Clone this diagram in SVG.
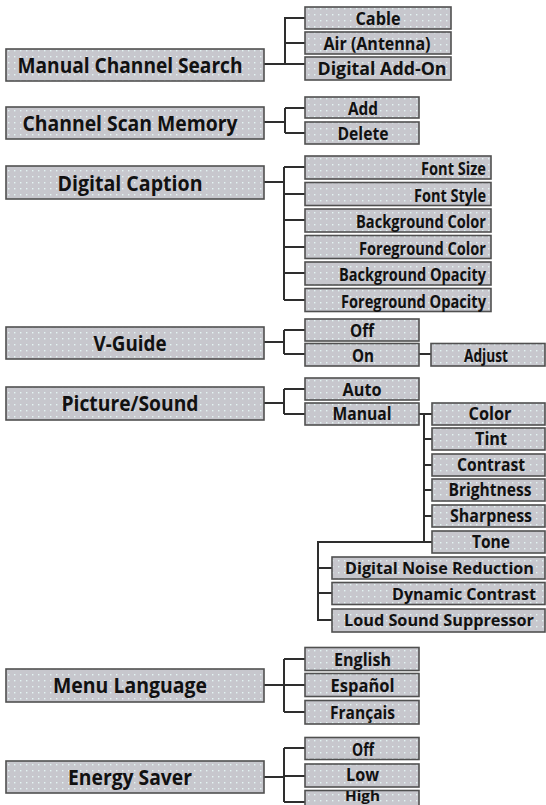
<svg xmlns="http://www.w3.org/2000/svg" width="546" height="805" viewBox="0 0 546 805">
<defs>
<pattern id="dots" width="6" height="6" patternUnits="userSpaceOnUse">
<rect width="6" height="6" fill="#c7c7cd"/>
<rect x="2" y="2" width="1.4" height="1.4" fill="#e4f4f3"/>
</pattern>
</defs>
<style>
.b{fill:url(#dots);stroke:#505050;stroke-width:1.6}
.m{font-family:"Open Sans","DejaVu Sans",sans-serif;font-weight:700;font-size:22px;fill:#111;text-anchor:middle}
.s{font-family:"Open Sans","DejaVu Sans",sans-serif;font-weight:700;font-size:18px;fill:#111;text-anchor:middle}
.r{font-family:"Open Sans","DejaVu Sans",sans-serif;font-weight:700;font-size:17px;fill:#111;text-anchor:end}
.l{font-family:"Open Sans","DejaVu Sans",sans-serif;font-weight:700;font-size:16px;fill:#111;text-anchor:end}
.c{fill:none;stroke:#2e2e2e;stroke-width:2}
</style>
<rect width="546" height="805" fill="#fff"/>
<g id="connectors" class="c">
<path d="M264,64H305M285,64V18H305M285,43H305"/>
<path d="M264,122H285M285,108V133M285,108H305M285,133H305"/>
<path d="M264,182H284M284,167V300M284,167H305M284,194H305M284,220H305M284,247H305M284,273H305M284,300H305"/>
<path d="M264,342H284M284,330V354M284,330H305M284,354H305M419,354H431"/>
<path d="M264,403H284M284,389V414M284,389H305M284,414H305"/>
<path d="M419,414H432M424,414V542M424,439H432M424,465H432M424,490H432M424,516H432M432,542H318V620H332M318,568H332M318,593H332"/>
<path d="M264,685H284M284,659V712M284,659H305M284,685H305M284,712H305"/>
<path d="M264,777H284M284,748V802M284,748H305M284,776H305M284,802H305"/>
</g>
<g id="n-manual-channel-search"><rect class="b" x="6" y="49" width="258" height="32"/><text class="m" x="130" y="73" textLength="225" lengthAdjust="spacingAndGlyphs">Manual Channel Search</text></g>
<g id="n-cable"><rect class="b" x="305" y="7" width="146" height="22"/><text class="s" x="378" y="25" textLength="45" lengthAdjust="spacingAndGlyphs">Cable</text></g>
<g id="n-air"><rect class="b" x="305" y="32" width="146" height="22"/><text class="s" x="377" y="50" textLength="107" lengthAdjust="spacingAndGlyphs">Air (Antenna)</text></g>
<g id="n-digital-add-on"><rect class="b" x="305" y="57" width="146" height="23"/><text class="s" x="382" y="75" textLength="129" lengthAdjust="spacingAndGlyphs">Digital Add-On</text></g>
<g id="n-channel-scan-memory"><rect class="b" x="6" y="107" width="258" height="32"/><text class="m" x="130" y="131" textLength="215" lengthAdjust="spacingAndGlyphs">Channel Scan Memory</text></g>
<g id="n-add"><rect class="b" x="305" y="97" width="114" height="21"/><text class="s" x="363" y="115" textLength="30" lengthAdjust="spacingAndGlyphs">Add</text></g>
<g id="n-delete"><rect class="b" x="305" y="122" width="114" height="22"/><text class="s" x="363" y="140" textLength="51" lengthAdjust="spacingAndGlyphs">Delete</text></g>
<g id="n-digital-caption"><rect class="b" x="6" y="166" width="258" height="33"/><text class="m" x="130" y="190.5" textLength="145" lengthAdjust="spacingAndGlyphs">Digital Caption</text></g>
<g id="n-font-size"><rect class="b" x="305" y="156" width="186" height="23"/><text class="r" x="486" y="175" textLength="65" lengthAdjust="spacingAndGlyphs">Font Size</text></g>
<g id="n-font-style"><rect class="b" x="305" y="182.5" width="186" height="23"/><text class="r" x="486" y="201.5" textLength="72" lengthAdjust="spacingAndGlyphs">Font Style</text></g>
<g id="n-background-color"><rect class="b" x="305" y="209" width="186" height="23"/><text class="r" x="486" y="228" textLength="130" lengthAdjust="spacingAndGlyphs">Background Color</text></g>
<g id="n-foreground-color"><rect class="b" x="305" y="235.5" width="186" height="23"/><text class="r" x="486" y="254.5" textLength="127" lengthAdjust="spacingAndGlyphs">Foreground Color</text></g>
<g id="n-background-opacity"><rect class="b" x="305" y="262" width="186" height="23"/><text class="r" x="486" y="281" textLength="147" lengthAdjust="spacingAndGlyphs">Background Opacity</text></g>
<g id="n-foreground-opacity"><rect class="b" x="305" y="288.5" width="186" height="23"/><text class="r" x="486" y="307.5" textLength="145" lengthAdjust="spacingAndGlyphs">Foreground Opacity</text></g>
<g id="n-v-guide"><rect class="b" x="6" y="327" width="258" height="32"/><text class="m" x="130" y="351" textLength="73" lengthAdjust="spacingAndGlyphs">V-Guide</text></g>
<g id="n-vguide-off"><rect class="b" x="305" y="319" width="114" height="22"/><text class="s" x="362" y="337" textLength="24" lengthAdjust="spacingAndGlyphs">Off</text></g>
<g id="n-vguide-on"><rect class="b" x="305" y="343.5" width="114" height="22.5"/><text class="s" x="363" y="361.5" textLength="22" lengthAdjust="spacingAndGlyphs">On</text></g>
<g id="n-adjust"><rect class="b" x="431" y="343.5" width="114" height="22.5"/><text class="s" x="486" y="361.5" textLength="44" lengthAdjust="spacingAndGlyphs">Adjust</text></g>
<g id="n-picture-sound"><rect class="b" x="6" y="387" width="258" height="33"/><text class="m" x="130" y="411" textLength="137" lengthAdjust="spacingAndGlyphs">Picture/Sound</text></g>
<g id="n-auto"><rect class="b" x="305" y="378" width="114" height="22"/><text class="s" x="362" y="396" textLength="39" lengthAdjust="spacingAndGlyphs">Auto</text></g>
<g id="n-manual"><rect class="b" x="305" y="403" width="114" height="22"/><text class="s" x="362" y="420" textLength="59" lengthAdjust="spacingAndGlyphs">Manual</text></g>
<g id="n-color"><rect class="b" x="432" y="403" width="113" height="22"/><text class="s" x="490" y="420" textLength="43" lengthAdjust="spacingAndGlyphs">Color</text></g>
<g id="n-tint"><rect class="b" x="432" y="428" width="113" height="22"/><text class="s" x="491" y="445" textLength="32" lengthAdjust="spacingAndGlyphs">Tint</text></g>
<g id="n-contrast"><rect class="b" x="432" y="454" width="113" height="22"/><text class="s" x="491" y="471" textLength="68" lengthAdjust="spacingAndGlyphs">Contrast</text></g>
<g id="n-brightness"><rect class="b" x="432" y="479" width="113" height="22"/><text class="s" x="490" y="496" textLength="83" lengthAdjust="spacingAndGlyphs">Brightness</text></g>
<g id="n-sharpness"><rect class="b" x="432" y="505" width="113" height="22"/><text class="s" x="491" y="522" textLength="82" lengthAdjust="spacingAndGlyphs">Sharpness</text></g>
<g id="n-tone"><rect class="b" x="432" y="531" width="113" height="22"/><text class="s" x="491" y="548" textLength="38" lengthAdjust="spacingAndGlyphs">Tone</text></g>
<g id="n-dnr"><rect class="b" x="332" y="557" width="213" height="22"/><text class="l" x="534" y="574" textLength="189" lengthAdjust="spacingAndGlyphs">Digital Noise Reduction</text></g>
<g id="n-dynamic-contrast"><rect class="b" x="332" y="582.5" width="213" height="22"/><text class="l" x="536" y="599.5" textLength="144" lengthAdjust="spacingAndGlyphs">Dynamic Contrast</text></g>
<g id="n-lss"><rect class="b" x="332" y="609" width="213" height="23"/><text class="l" x="534" y="626" textLength="190" lengthAdjust="spacingAndGlyphs">Loud Sound Suppressor</text></g>
<g id="n-menu-language"><rect class="b" x="6" y="669" width="258" height="33"/><text class="m" x="130" y="693" textLength="154" lengthAdjust="spacingAndGlyphs">Menu Language</text></g>
<g id="n-english"><rect class="b" x="305" y="647.5" width="114" height="23"/><text class="s" x="362.5" y="665.5" textLength="57" lengthAdjust="spacingAndGlyphs">English</text></g>
<g id="n-espanol"><rect class="b" x="305" y="673.5" width="114" height="23"/><text class="s" x="362.5" y="691.5" textLength="64" lengthAdjust="spacingAndGlyphs">Español</text></g>
<g id="n-francais"><rect class="b" x="305" y="700.5" width="114" height="23.5"/><text class="s" x="362.5" y="718.5" textLength="65" lengthAdjust="spacingAndGlyphs">Français</text></g>
<g id="n-energy-saver"><rect class="b" x="6" y="761" width="258" height="32"/><text class="m" x="130" y="785" textLength="124" lengthAdjust="spacingAndGlyphs">Energy Saver</text></g>
<g id="n-es-off"><rect class="b" x="305" y="737.5" width="114" height="22"/><text class="s" x="363" y="755.5" textLength="22" lengthAdjust="spacingAndGlyphs">Off</text></g>
<g id="n-low"><rect class="b" x="305" y="764" width="114" height="23"/><text class="s" x="362.5" y="781" textLength="33" lengthAdjust="spacingAndGlyphs">Low</text></g>
<g id="n-high"><rect class="b" x="305" y="790.5" width="114" height="16"/><text class="s" x="362.5" y="801" style="font-size:14px" textLength="35" lengthAdjust="spacingAndGlyphs">High</text></g>
</svg>
